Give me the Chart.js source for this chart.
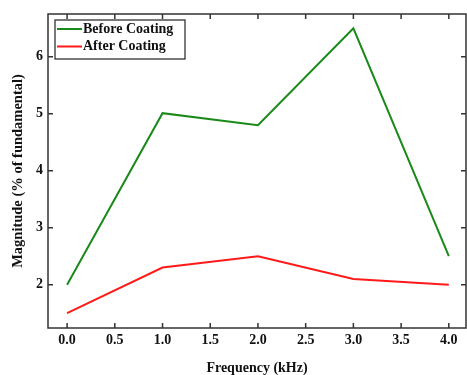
<!DOCTYPE html>
<html>
<head>
<meta charset="utf-8">
<script src="https://cdn.jsdelivr.net/npm/chart.js@4"></script>
<style>
  html, body { margin: 0; padding: 0; background: #fff; }
  #wrap { width: 467px; height: 375px; }
</style>
</head>
<body>
<div id="wrap"><canvas id="chart"></canvas></div>
<script>
const frequency = [0, 1, 2, 3, 4];
const beforeCoating = [2.0, 5.01, 4.8, 6.5, 2.5];
const afterCoating = [1.5, 2.3, 2.5, 2.1, 2.0];
const seriesNames = ["Before Coating", "After Coating"];
const seriesColors = ["#1a8a1a", "#ff1a1a"];

const fontFamily = "'Liberation Serif', 'Times New Roman', serif";
const axisColor = "#333";

const toPoints = (vals) => frequency.map((f, i) => ({ x: f, y: vals[i] }));

// inward ticks on all 4 sides + top/right border + boxed legend
const framePlugin = {
  id: "frame",
  afterDraw(chart) {
    const ctx = chart.ctx;
    const { left, right, top, bottom } = chart.chartArea;
    const xs = chart.scales.x;
    const ys = chart.scales.y;
    const len = 5;
    ctx.save();
    ctx.strokeStyle = axisColor;
    ctx.lineWidth = 1.5;
    ctx.strokeRect(left, top, right - left, bottom - top);
    ctx.beginPath();
    xs.ticks.forEach((t) => {
      const px = xs.getPixelForValue(t.value);
      ctx.moveTo(px, bottom);
      ctx.lineTo(px, bottom - len);
      ctx.moveTo(px, top);
      ctx.lineTo(px, top + len);
    });
    ys.ticks.forEach((t) => {
      const py = ys.getPixelForValue(t.value);
      ctx.moveTo(left, py);
      ctx.lineTo(left + len, py);
      ctx.moveTo(right, py);
      ctx.lineTo(right - len, py);
    });
    ctx.stroke();

    // legend
    const bx = left + 7, by = top + 6, bw = 130, bh = 39;
    ctx.fillStyle = "#fff";
    ctx.fillRect(bx, by, bw, bh);
    ctx.strokeStyle = "#222";
    ctx.lineWidth = 1.2;
    ctx.strokeRect(bx, by, bw, bh);
    ctx.font = "bold 14px " + fontFamily;
    ctx.textBaseline = "middle";
    chart.data.datasets.forEach((ds, i) => {
      const y = by + 9 + i * 17.5;
      ctx.strokeStyle = ds.borderColor;
      ctx.lineWidth = 2;
      ctx.beginPath();
      ctx.moveTo(bx + 2, y);
      ctx.lineTo(bx + 27, y);
      ctx.stroke();
      ctx.fillStyle = "#111";
      ctx.fillText(ds.label, bx + 28, y);
    });
    ctx.restore();
  },
};

new Chart(document.getElementById("chart"), {
  type: "line",
  data: {
    datasets: [
      {
        label: seriesNames[0],
        data: toPoints(beforeCoating),
        borderColor: seriesColors[0],
        borderWidth: 2,
        pointRadius: 0,
        tension: 0,
      },
      {
        label: seriesNames[1],
        data: toPoints(afterCoating),
        borderColor: seriesColors[1],
        borderWidth: 2,
        pointRadius: 0,
        tension: 0,
      },
    ],
  },
  options: {
    responsive: true,
    maintainAspectRatio: false,
    animation: false,
    layout: { padding: { left: 0, top: 14, right: 1, bottom: 0 } },
    plugins: {
      legend: { display: false },
      tooltip: { enabled: false },
    },
    scales: {
      x: {
        type: "linear",
        min: -0.2,
        max: 4.18,
        grid: { display: false, drawTicks: false },
        border: { display: false },
        afterBuildTicks: (scale) => {
          scale.ticks = [0, 0.5, 1, 1.5, 2, 2.5, 3, 3.5, 4].map((v) => ({ value: v }));
        },
        ticks: {
          padding: 4,
          color: "#111",
          font: { family: fontFamily, size: 14, weight: "bold" },
          callback: (v) => Number(v).toFixed(1),
        },
        title: {
          display: true,
          text: "Frequency (kHz)",
          color: "#111",
          padding: { top: 16, bottom: -2 },
          font: { family: fontFamily, size: 14, weight: "bold" },
        },
        afterFit: (scale) => { scale.height = 47; },
      },
      y: {
        min: 1.24,
        max: 6.75,
        grid: { display: false, drawTicks: false },
        border: { display: false },
        afterBuildTicks: (scale) => {
          scale.ticks = [2, 3, 4, 5, 6].map((v) => ({ value: v }));
        },
        ticks: {
          padding: 5,
          color: "#111",
          font: { family: fontFamily, size: 14, weight: "bold" },
        },
        title: {
          display: true,
          text: "Magnitude (% of fundamental)",
          color: "#111",
          padding: { top: 10, bottom: 0 },
          font: { family: fontFamily, size: 14.5, weight: "bold" },
        },
        afterFit: (scale) => { scale.width = 48; },
      },
    },
  },
  plugins: [framePlugin],
});
</script>
</body>
</html>
